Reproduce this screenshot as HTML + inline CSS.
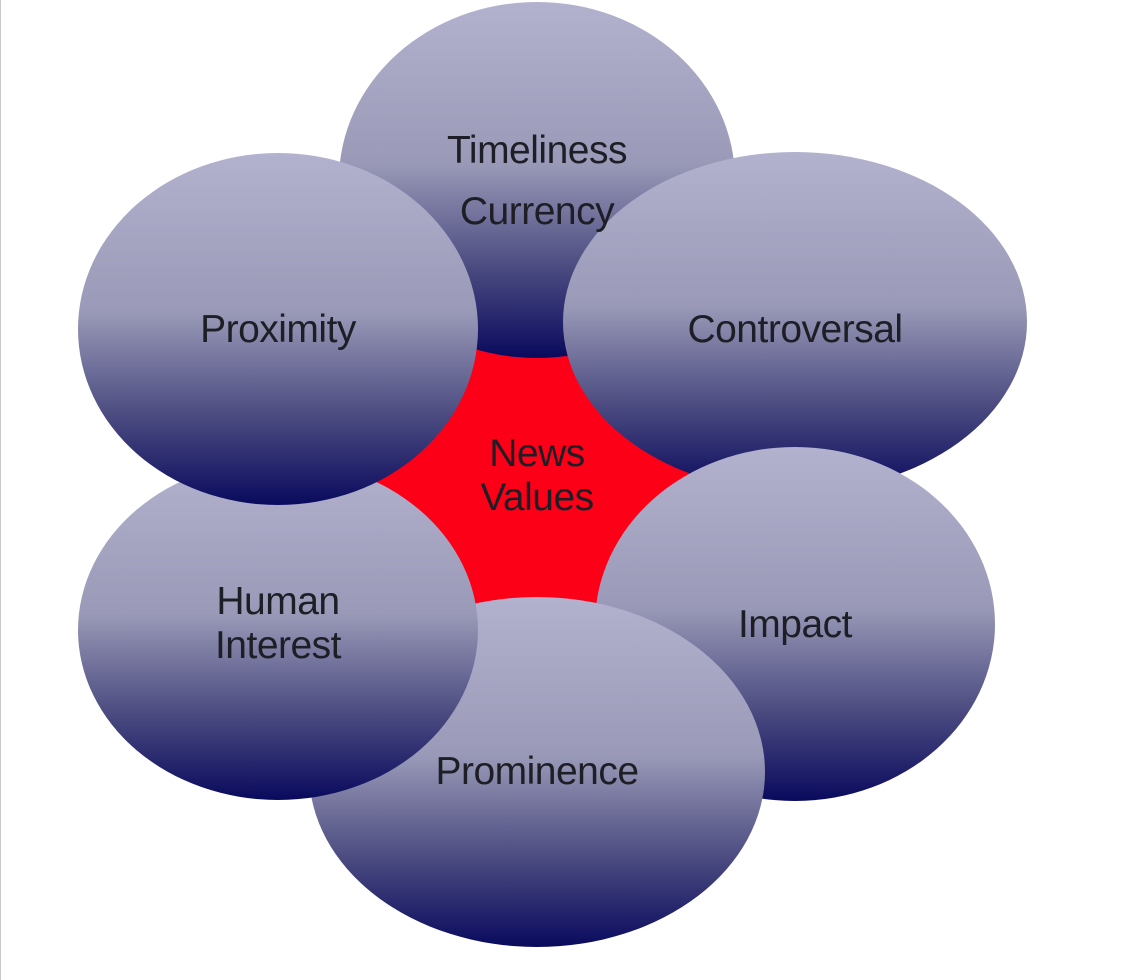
<!DOCTYPE html>
<html><head><style>
html,body{margin:0;padding:0;background:#fff;width:1126px;height:980px;overflow:hidden}
svg{display:block}
text{font-family:"Liberation Sans",Arial,sans-serif;font-size:39px;fill:#1e1e26;text-anchor:middle;letter-spacing:-0.5px}
</style></head><body>
<svg width="1126" height="980" viewBox="0 0 1126 980">
<defs>
<linearGradient id="g" x1="0" y1="0" x2="0" y2="1">
<stop offset="0" stop-color="#b2b2ce"/>
<stop offset="0.45" stop-color="#9a9ab8"/>
<stop offset="0.75" stop-color="#4a4a80"/>
<stop offset="1" stop-color="#0a0a5e"/>
</linearGradient>
</defs>
<line x1="0.5" y1="0" x2="0.5" y2="980" stroke="#c8c8c8"/>
<circle cx="537" cy="475" r="168" fill="#fc0018"/>
<ellipse cx="537" cy="180" rx="198" ry="178" fill="url(#g)"/>
<ellipse cx="795" cy="322" rx="232" ry="170" fill="url(#g)"/>
<ellipse cx="795" cy="624" rx="200" ry="177" fill="url(#g)"/>
<ellipse cx="537" cy="772" rx="228" ry="175" fill="url(#g)"/>
<ellipse cx="278" cy="630" rx="200" ry="170" fill="url(#g)"/>
<ellipse cx="278" cy="329" rx="200" ry="176" fill="url(#g)"/>
<text x="537" y="163">Timeliness</text>
<text x="537" y="224">Currency</text>
<text x="278" y="342">Proximity</text>
<text x="795" y="342">Controversal</text>
<text x="537" y="466" fill="#1a0000">News</text>
<text x="537" y="510" fill="#1a0000">Values</text>
<text x="278" y="614">Human</text>
<text x="278" y="658">Interest</text>
<text x="795" y="637">Impact</text>
<text x="537" y="784">Prominence</text>
</svg>
</body></html>
